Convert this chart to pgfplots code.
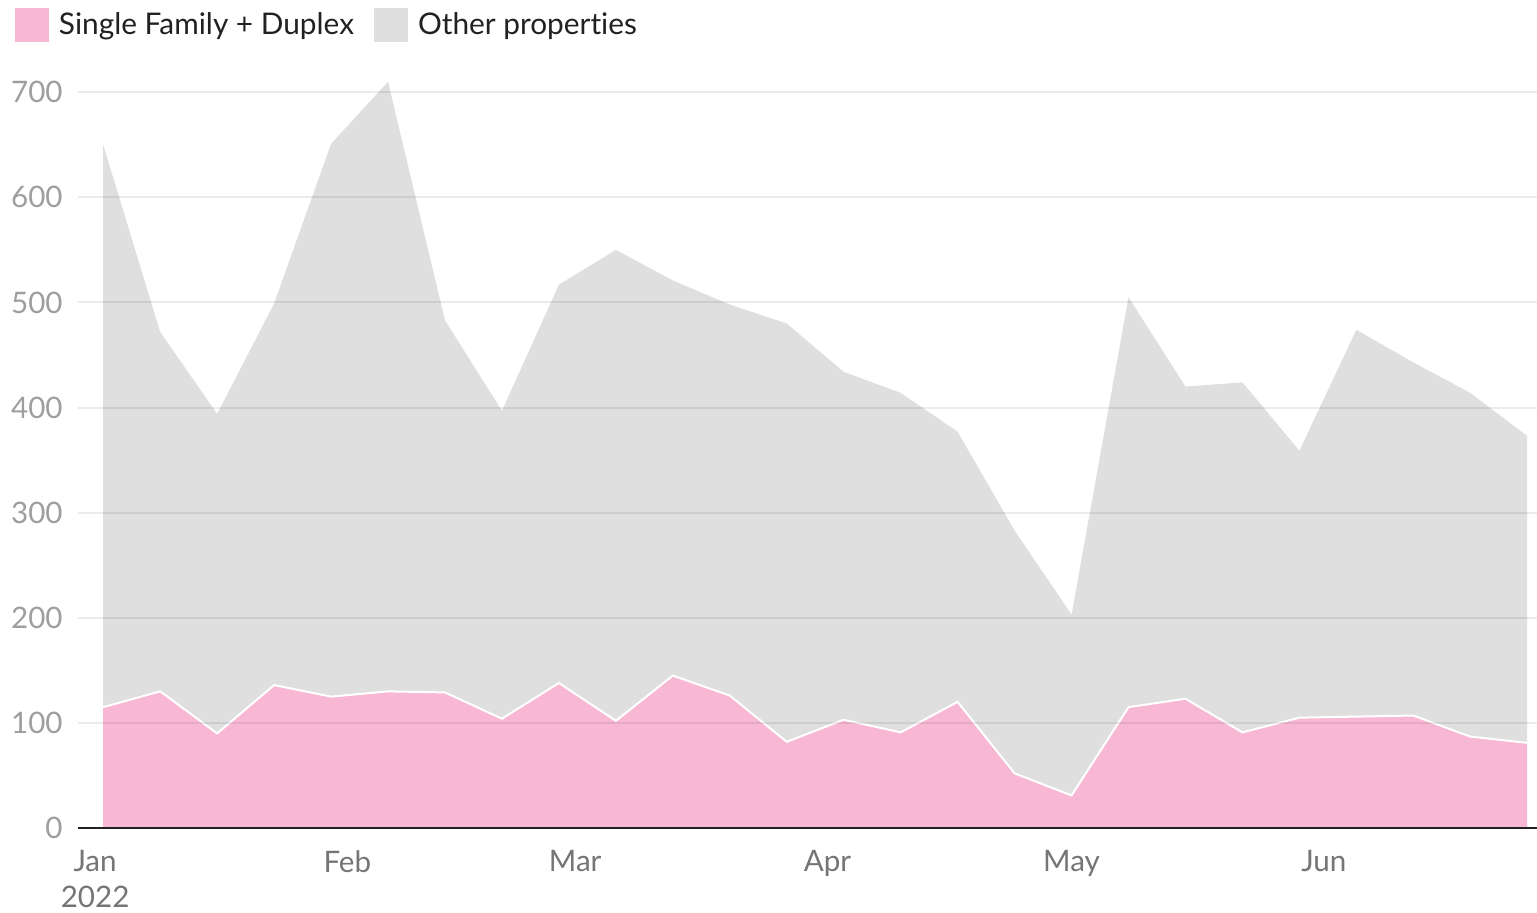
\documentclass[border=0pt]{standalone}
\usepackage{pgfplots}
\pgfplotsset{compat=1.18}
\usepackage{pgfplotstable}
\usepackage{fontspec}
\setmainfont{Lato}[Ligatures={NoCommon}]
\definecolor{sfpink}{HTML}{F8B8D4}
\definecolor{othgrey}{HTML}{DFDFDF}
\definecolor{ylab}{HTML}{9E9E9E}
\definecolor{xlab}{HTML}{757575}
\definecolor{legtext}{HTML}{212121}

\pgfplotstableread{
day sfd total
1   115 650
8   130 472
15  90  394
22  136 499
29  125 651
36  130 710
43  129 483
50  104 397
57  138 517
64  102 550
71  145 521
78  126 498
85  82  480
92  103 434
99  91  414
106 120 377
113 52  283
120 31  203
127 115 505
134 123 420
141 91  424
148 105 359
155 106 474
162 107 443
169 87  414
176 81  373
}\data

\begin{document}
\begin{tikzpicture}
\useasboundingbox (0,0) rectangle (768.5pt,456pt);
\begin{axis}[
  at={(39pt,42pt)}, anchor=south west,
  width=729.5pt, height=386.25pt, scale only axis,
  xmin=-2.1, xmax=177.2, ymin=0, ymax=735,
  axis on top,
  axis lines*=left,
  y axis line style={draw=none},
  x axis line style={draw=black!87, line width=1.2pt},
  major tick length=0pt,
  ytick={0,100,...,700},
  xtick={0,31,59,90,120,151},
  xticklabels={{Jan\\2022},Feb,Mar,Apr,May,Jun},
  ymajorgrids,
  grid style={black, opacity=0.08, line width=1pt},
  /pgf/number format/assume math mode=true,
  yticklabel style={font=\fontsize{14.8}{17}\selectfont, text=ylab, inner sep=0pt, xshift=-7.5pt},
  xticklabel style={font=\fontsize{14.8}{18}\selectfont, text=xlab, inner sep=0pt, yshift=-11pt, align=center, anchor=north},
  legend columns=2,
  legend cell align=left,
  legend image code/.code={\fill[#1] (0pt,-8.5pt) rectangle (17pt,8.5pt);},
  legend style={draw=none, fill=none, at={(0,1)}, anchor=west, xshift=-31.5pt, yshift=15pt,
    inner sep=0pt, outer sep=0pt,
    nodes={inner sep=0pt, font=\fontsize{14.9}{17}\selectfont, text=legtext},
    /tikz/every odd column/.append style={column sep=5pt},
    /tikz/every even column/.append style={column sep=10pt}},
]
\addlegendimage{fill=sfpink, draw=none}
\addlegendentry{Single Family + Duplex}
\addlegendimage{fill=othgrey, draw=none}
\addlegendentry{Other properties}
\addplot[fill=othgrey, draw=none, forget plot] table[x=day, y=total] {\data} \closedcycle;
\addplot[fill=sfpink, draw=none, forget plot] table[x=day, y=sfd] {\data} \closedcycle;
\addplot[white, line width=1pt, forget plot] table[x=day, y=sfd] {\data};
\end{axis}
\end{tikzpicture}
\end{document}
